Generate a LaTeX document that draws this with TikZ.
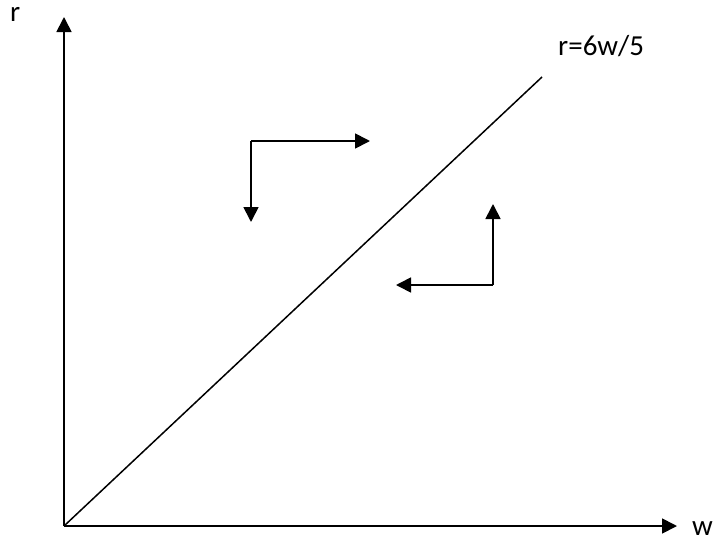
\documentclass[tikz,border=0pt]{standalone}
\usepackage{fontspec}
\setmainfont{Carlito}
\usetikzlibrary{arrows.meta}
\begin{document}
\begin{tikzpicture}[x=1pt,y=-1pt,
  ax/.style={line width=1.7pt,-{Triangle[length=15pt,width=15pt]}},
  lbl/.style={inner sep=0pt,font=\fontsize{29}{32}\selectfont},
  diag/.style={line width=1.5pt}]
\useasboundingbox (0,0) rectangle (717,541);
\coordinate (O) at (64,526);
\coordinate (ytip) at (64,17);
\coordinate (xtip) at (677,526);
\coordinate (dend) at (542,77);
\draw[ax] (O) -- (ytip);
\draw[ax] (O) -- (xtip);
\draw[diag] (O) -- (dend);
\node[lbl,anchor=base west] (rl) at (10,21) {r};
\node[lbl,anchor=base west] (wl) at (692,535) {w};
\node[lbl,anchor=base west] (eq) at (558,55) {r=6w/5};
% upper-left pair
\coordinate (c1) at (251,141);
\coordinate (c1r) at (370,141);
\coordinate (c1d) at (251,222);
\draw[ax] (c1) -- (c1r);
\draw[ax] (c1) -- (c1d);
% lower-right pair
\coordinate (c2) at (493,285);
\coordinate (c2l) at (396,285);
\coordinate (c2u) at (493,204);
\draw[ax] (c2) -- (c2l);
\draw[ax] (c2) -- (c2u);
\end{tikzpicture}
\end{document}
